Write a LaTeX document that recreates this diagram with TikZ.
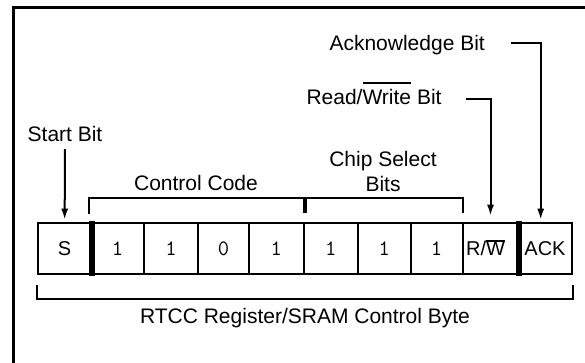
\documentclass[tikz,border=0pt]{standalone}
\usepackage{fontspec}
\setmainfont{Liberation Sans}
\usetikzlibrary{arrows.meta,calc}
\newsavebox\ovbox
\newcommand\myover[3]{\sbox\ovbox{#1}\rlap{\smash{\raisebox{#2}{\rule{\wd\ovbox}{#3}}}}\usebox\ovbox}
\begin{document}
\begin{tikzpicture}[x=1pt,y=-1pt,
  lbl/.style={inner sep=0pt, font=\fontsize{21}{25}\selectfont},
  cell/.style={draw, line width=2pt, minimum height=51.6pt, inner sep=0pt, font=\fontsize{20}{24}\selectfont},
  bitc/.style={cell, font=\fontsize{22}{24}\selectfont\ttfamily},
  arr/.style={line width=2pt, -{Latex[length=11pt,width=7pt]}},
  brk/.style={line width=2pt},
  sep/.style={line width=6pt, shorten <=-1pt, shorten >=-1pt}]

\useasboundingbox (0,0) rectangle (585,362);
% frame
\draw[line width=2.7pt] (13.3,363) -- (13.3,7.3) -- (586,7.3);

% register cells
\node[cell, minimum width=52.7pt] (scell) at (64.65,248.5) {S};
\node[bitc, minimum width=53pt]   (c1) at (117.5,248.5) {1};
\node[bitc, minimum width=54pt]   (c2) at (171,248.5) {1};
\node[bitc, minimum width=51pt]   (c3) at (223.5,248.5) {0};
\node[bitc, minimum width=54.5pt] (c4) at (276.25,248.5) {1};
\node[bitc, minimum width=54.5pt] (c5) at (330.75,248.5) {1};
\node[bitc, minimum width=52.5pt] (c6) at (384.25,248.5) {1};
\node[bitc, minimum width=52.2pt] (c7) at (436.6,248.5) {1};
\node[cell, minimum width=55.6pt] (rwcell) at (490.5,248.5) {R/\myover{W}{14pt}{1.8pt}\hspace*{10pt}};
\node[cell, minimum width=53.4pt] (ackcell) at (545,248.5) {ACK};

% thick separators
\draw[sep] (scell.north east) -- (scell.south east);
\draw[sep] (rwcell.north east) -- (rwcell.south east);

% labels
\node[lbl, anchor=base east] (acklbl) at (485,50) {Acknowledge Bit};
\node[lbl, anchor=base east] (rwlbl) at (441.7,104) {Read/\myover{Write}{19.8pt}{1.8pt} Bit};
\node[lbl, anchor=base] (startlbl) at (65,141) {Start Bit};
\node[lbl, anchor=base] (cclbl) at (196,190) {Control Code};
\node[lbl, anchor=base] (cslbla) at (383,166) {Chip Select};
\node[lbl, anchor=base] (cslblb) at (383,191) {Bits};
\node[lbl, anchor=base] (rtcc) at (305,323) {RTCC Register/SRAM Control Byte};

% arrows
\draw[arr] ($(startlbl.base)+(0,8)$) -- ([yshift=2pt]scell.north);
\draw[arr] ($(rwlbl.base east)+(24,-5)$) -| ([yshift=6pt]rwcell.north);
\draw[arr] ($(acklbl.base east)+(25.7,-7.3)$) -| ([xshift=-4.3pt,yshift=2pt]ackcell.north);

% top bracket
\draw[brk] ([xshift=-1pt,yshift=7.7pt]c1.north west) -- ++(0,-16) -| ([xshift=-0.7pt,yshift=8.7pt]c7.north east);
\draw[line width=4pt] ([yshift=8.7pt]c4.north east) -- ++(0,-16.5);

% bottom bracket
\draw[brk] ([yshift=-9.7pt]scell.south west) -- ++(0,14) -| ([yshift=-9.7pt]ackcell.south east);
\end{tikzpicture}
\end{document}
